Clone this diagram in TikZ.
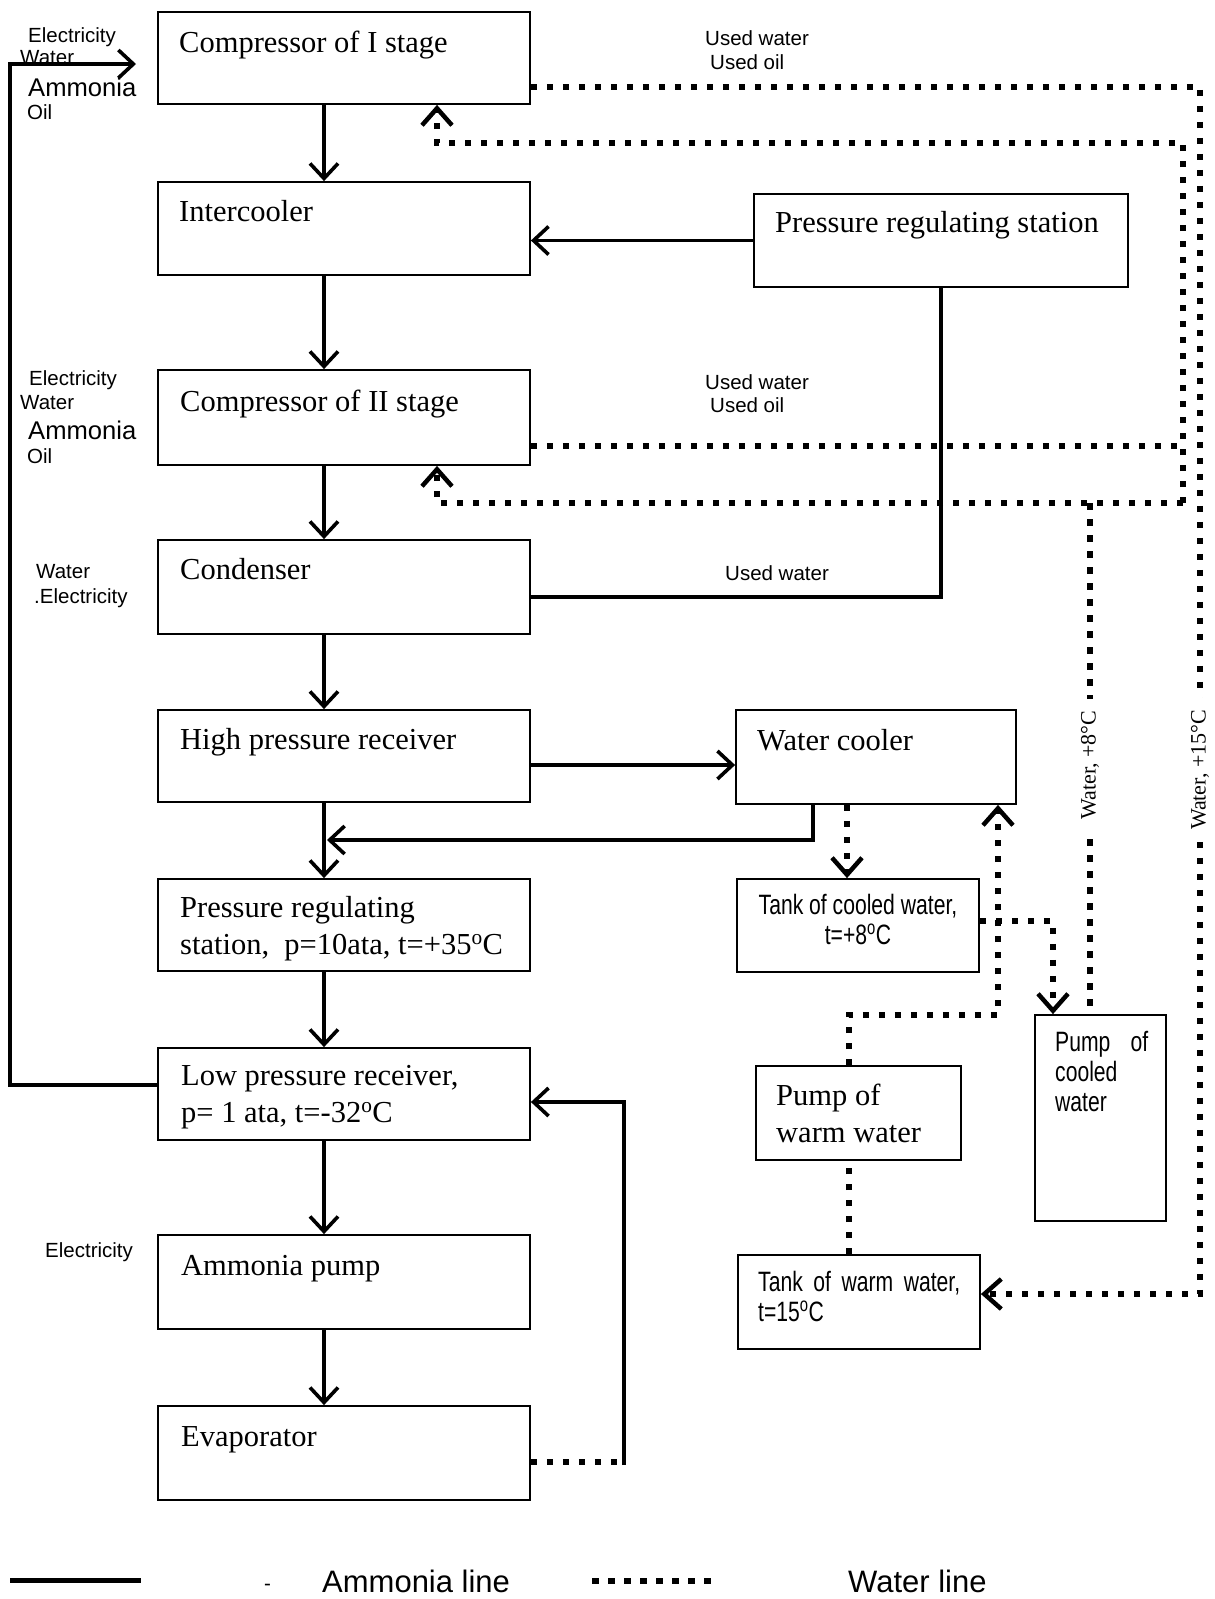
\documentclass[tikz,border=0pt]{standalone}
\usepackage{fontspec}
\setmainfont{Liberation Serif}
\newfontfamily\ar{Liberation Sans}
\newfontfamily\arn[FakeStretch=0.755]{Liberation Sans}
\usetikzlibrary{arrows.meta}
\begin{document}
\begin{tikzpicture}[x=1pt,y=-1pt,
  box/.style={draw, line width=1.8pt, inner sep=0pt},
  ttl/.style={anchor=base west, inner sep=0pt, font=\fontsize{30.5}{37}\selectfont, align=left},
  lbl/.style={anchor=base west, inner sep=0pt, font=\ar\fontsize{20.5}{24}\selectfont},
  lblb/.style={anchor=base west, inner sep=0pt, font=\ar\fontsize{25.6}{28}\selectfont},
  nar/.style={inner sep=0pt, font=\arn\fontsize{28}{30}\selectfont},
  leg/.style={anchor=base west, inner sep=0pt, font=\ar\fontsize{31}{34}\selectfont},
  wlab/.style={fill=white, inner xsep=12pt, inner ysep=2pt, rotate=90, font=\fontsize{22}{24}\selectfont},
  am/.style={line width=3.6pt},
  amarr/.style={am, -{Straight Barb[length=15pt,width=28pt,line width=3.6pt]}},
  wl/.style={line width=6pt, dash pattern=on 6.5pt off 9.5pt},
  wlarr/.style={wl, -{Straight Barb[length=17pt,width=30pt,line width=4.5pt]}}
]
\useasboundingbox (0,0) rectangle (1215,1599);

% ---- left column boxes
\node[box, minimum width=372pt, minimum height=92pt] (c1) at (344,58) {};
\node[box, minimum width=372pt, minimum height=93pt] (ic) at (344,228.5) {};
\node[box, minimum width=372pt, minimum height=95pt] (c2) at (344,417.5) {};
\node[box, minimum width=372pt, minimum height=94pt] (cond) at (344,587) {};
\node[box, minimum width=372pt, minimum height=92pt] (hpr) at (344,756) {};
\node[box, minimum width=372pt, minimum height=92pt] (prs) at (344,925) {};
\node[box, minimum width=372pt, minimum height=92pt] (lpr) at (344,1094) {};
\node[box, minimum width=372pt, minimum height=94pt] (ap) at (344,1282) {};
\node[box, minimum width=372pt, minimum height=94pt] (ev) at (344,1453) {};

% ---- right boxes
\node[box, minimum width=374pt, minimum height=93pt] (prsR) at (941,240.5) {};
\node[box, minimum width=280pt, minimum height=94pt] (wc) at (876,757) {};
\node[box, minimum width=242pt, minimum height=93pt] (tcw) at (858,925.5) {};
\node[box, minimum width=131pt, minimum height=206pt] (pcw) at (1100.5,1118) {};
\node[box, minimum width=205pt, minimum height=94pt] (pww) at (858.5,1113) {};
\node[box, minimum width=242pt, minimum height=94pt] (tww) at (859,1302) {};

% ---- box titles (multi-line nodes: base = last line's baseline)
\node[ttl] (c1t) at (179,52) {Compressor of I stage};
\node[ttl] (ict) at (179,221) {Intercooler};
\node[ttl] (c2t) at (180,411) {Compressor of II stage};
\node[ttl] (condt) at (180,579) {Condenser};
\node[ttl] (hprt) at (180,749) {High pressure receiver};
\node[ttl] (prst) at (180,954) {Pressure regulating\\station,\ \ p=10ata, t=+35\textsuperscript{o}C};
\node[ttl] (lprt) at (181,1122) {Low pressure receiver,\\p= 1 ata, t=-32\textsuperscript{o}C};
\node[ttl] (apt) at (181,1275) {Ammonia pump};
\node[ttl] (evt) at (181,1446) {Evaporator};
\node[ttl] (prsRt) at (775,232) {Pressure regulating station};
\node[ttl] (wct) at (757,750) {Water cooler};
\node[ttl] (pwwt) at (776,1142) {Pump of\\warm water};
\node[nar, anchor=base, align=center] (tcwt) at (858,944) {Tank of cooled water,\\t=+8\textsuperscript{o}C};
\node[nar, anchor=base west, align=left] (pcwt) at (1055,1111) {\makebox[93pt][s]{Pump of}\\cooled\\water};
\node[nar, anchor=base west, align=left] (twwt) at (758,1321) {\makebox[202pt][s]{Tank of warm water,}\\t=15\textsuperscript{o}C};

% ---- side labels
\node[lbl] (e1) at (28,42) {Electricity};
\node[lbl] (w1) at (20,64) {Water};
\node[lblb] (a1) at (28,96) {Ammonia};
\node[lbl] (o1) at (27,119) {Oil};
\node[lbl] (e2) at (29,385) {Electricity};
\node[lbl] (w2) at (20,409) {Water};
\node[lblb] (a2) at (28,439) {Ammonia};
\node[lbl] (o2) at (27,463) {Oil};
\node[lbl] (w3) at (36,578) {Water};
\node[lbl] (e3) at (34,603) {.Electricity};
\node[lbl] (e4) at (45,1257) {Electricity};
\node[lbl] (uw1) at (705,45) {Used water};
\node[lbl] (uo1) at (710,69) {Used oil};
\node[lbl] (uw2) at (705,389) {Used water};
\node[lbl] (uo2) at (710,412) {Used oil};
\node[lbl] (uw3) at (725,580) {Used water};

% ---- ammonia lines
\foreach \a/\b in {c1/ic, ic/c2, c2/cond, cond/hpr, hpr/prs, prs/lpr, lpr/ap, ap/ev}
  \draw[amarr] (\a.south -| 324,0) -- (\b.north -| 324,0);
\draw[amarr] (prsR.west) -- (prsR.west -| ic.east);
\draw[am] (prsR.south) -- (941,597) -- (cond.east |- 0,597);
\draw[amarr] (hpr.east |- 0,765) -- (wc.west |- 0,765);
\draw[amarr] (wc.south -| 813,0) -- (813,840) -- (327,840);
\coordinate (c1in) at (136,64);
\draw[amarr] (lpr.west |- 0,1085) -- (10,1085) -- (10,64) -- (c1in);
\draw[wl] (ev.east |- 0,1462) -- (617,1462);
\draw[amarr] (624,1465) -- (624,1102) -- (lpr.east |- 0,1102);

% ---- water lines
\draw[wlarr] (c1.east |- 0,87) -- (1200,87) -- (1200,1294) -- (tww.east |- 0,1294);
\node[wlab] (l15) at (1200,770) {Water, +15°C};
\draw[wlarr] (1183,503) -- (1183,143) -- (437,143) -- (c1.south -| 437,0);
\draw[wl] (c2.east |- 0,446) -- (1183,446);
\draw[wlarr] (1183,503) -- (437,503) -- (c2.south -| 437,0);
\draw[wl] (1090,503) -- (pcw.north -| 1090,0);
\node[wlab] (l8) at (1090,765) {Water, +8°C};
\draw[wlarr] (wc.south -| 847,0) -- (tcw.north -| 847,0);
\draw[wlarr] (tcw.east |- 0,921) -- (1053,921) -- (pcw.north -| 1053,0);
\draw[wlarr] (pww.north -| 849,0) -- (849,1015) -- (998,1015) -- (wc.south -| 998,0);
\draw[wl] (tww.north -| 849,0) -- (pww.south -| 849,0);

% ---- legend
\coordinate (la) at (10,1580);
\coordinate (lb) at (141,1580);
\draw[line width=5pt] (la) -- (lb);
\node[lbl] (dash) at (264,1590) {-};
\node[leg] (lt1) at (322,1592) {Ammonia line};
\coordinate (lc) at (592,1581);
\coordinate (ld) at (720,1581);
\draw[wl] (lc) -- (ld);
\node[leg] (lt2) at (848,1592) {Water line};
\end{tikzpicture}
\end{document}
